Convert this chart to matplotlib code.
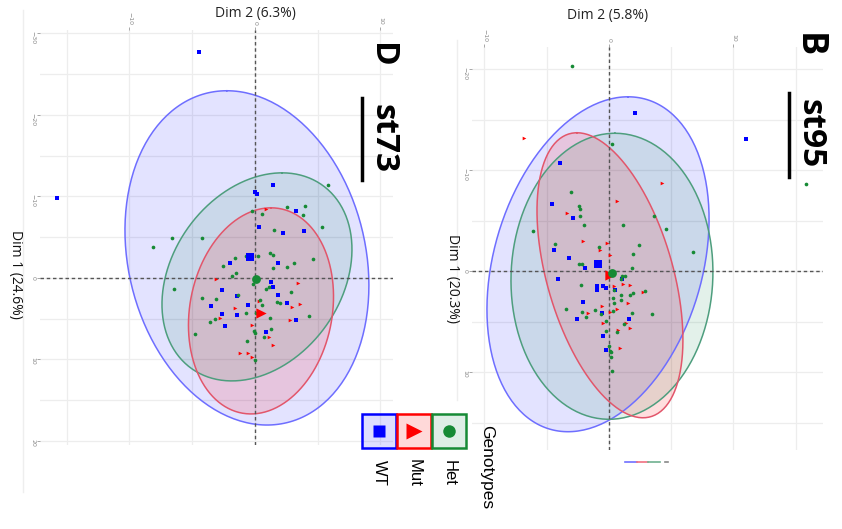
import numpy as np
import matplotlib
matplotlib.use("Agg")
import matplotlib.pyplot as plt
from matplotlib.lines import Line2D
from matplotlib.patches import Rectangle

W, H = 842, 529

# ---- panel D (st73): Dim 2 runs across, Dim 1 runs downwards ----
d_wt_dim2 = [1.46, 0, 0.13, 3.27, 0.32, 2.26, 3.88, 1.86, -1.99, 1.25, 1.41, -2.66, 1.81,
             -1.46, -3.53, -0.53, 2.52, -2.63, -1.46, 3.24, -2.36, 0.88, -4.46, -15.8]
d_wt_dim1 = [-11.41, -10.59, -10.31, -8.26, -6.22, -5.48, -5.69, -1.80, -1.88, 0.45, 1.10, 1.47, 2.13,
             2.21, 3.44, 3.35, 3.11, 4.42, 4.58, 5.15, 5.89, 6.58, -27.7, -9.8]
d_mut_dim2 = [0.88, -3.08, 3.45, 0.35, -1.59, 2.97, 3.59, -2.79, 2.79, -0.27, 1.14, 1.41, -1.20, -0.58, -0.27]
d_mut_dim1 = [-8.43, 0.12, 0.57, 2.78, 3.68, 3.56, 3.23, 4.95, 5.19, 5.81, 7.20, 8.22, 9.16, 9.16, 9.65]
d_het_dim2 = [5.79, 2.58, 4.01, 3.85, -0.27, 0.53, 5.37, 1.54, -6.64, -4.25,
              -8.15, 1.20, 1.41, 0.27, -0.72, -1.62, -2.58, 3.11, 4.65, 2.55,
              1.41, -1.49, -1.81, -0.13, -6.45, 0.85, 1.14, 2.87, -4.22, -3.11,
              -1.38, 0.40, 1.78, 1.99, 0.58, 0.11, -0.72, 1.20, 4.30, -3.19,
              -3.56, -4.75, 1.27, -0.11, 0.03, 0.72, -0.61, 0.0]
d_het_dim1 = [-11.41, -8.75, -8.83, -7.77, -8.26, -7.85, -6.22, -5.81, -4.91, -4.91,
              -3.76, -3.03, -2.78, -2.70, -2.62, -2.41, -1.47, -1.80, -2.33, -1.31,
              -1.19, -0.57, -0.25, 0.74, 1.35, 1.35, 1.15, 1.68, 2.41, 2.62,
              2.09, 2.70, 2.90, 3.03, 3.31, 4.34, 4.34, 4.95, 4.66, 5.07,
              5.40, 6.87, 6.30, 6.46, 6.79, 7.28, 7.69, 10.06]
# group means (dim2, dim1)
d_means = {"WT": (-0.40, -2.58), "Mut": (0.48, 4.29), "Het": (0.08, 0.12)}
# confidence ellipses: centre, half-width (dim2), half-height (dim1), dim2 offset of top point
d_ell = {"WT": ((-0.64, -2.45), 9.72, 20.5, -1.6),
         "Het": ((0.16, -0.12), 7.57, 12.76, 2.0),
         "Mut": ((0.48, 4.05), 5.78, 12.64, 0.8)}

# ---- panel B (st95) ----
b_wt_dim2 = [2.09, -3.91, -4.55, -2.92, -4.39, -3.19, -1.95, 11.0, -4.07, -0.99, -0.99,
             -0.46, -0.24, 0.48, 1.02, -2.06, -0.59, -2.54, 1.61, -0.51, -0.27]
b_wt_dim1 = [-15.71, -10.73, -6.70, -5.31, -2.08, -1.35, -0.36, -13.07, 0.76, 1.45, 1.85,
             1.45, 1.68, 1.85, 0.73, 3.00, 4.09, 4.72, 4.75, 6.40, 7.76]
b_mut_dim2 = [-6.80, 4.23, 0.62, -3.35, -2.12, -0.13, -0.72, 0.08, 0.43, 1.15, 1.69,
              2.70, 1.55, -0.59, 0.67, -1.66, 0.08, -0.46, 1.37, 1.69, 0.75, 0.88]
b_mut_dim1 = [-13.23, -8.75, -6.96, -5.81, -2.97, -2.81, -2.08, -1.65, 1.45, 1.22, 1.32,
              2.05, 3.14, 3.40, 3.70, 4.09, 4.06, 5.12, 5.12, 5.58, 5.84, 7.56]
b_het_dim2 = [0.21, -3.08, -2.38, -2.33, -2.33, -2.03, -6.08, 3.64, 1.15, 4.58,
              -4.31, -0.83, 2.44, 1.95, 6.72, -2.38, -2.20, 1.87, -2.97, 15.8,
              1.02, 1.29, 0.94, 0.13, -2.25, 0.40, 0.94, 1.69, 1.90, 2.89,
              0.29, 0.43, 0.94, -3.45, -2.14, -1.12, -0.64, 0.29, 1.82, 3.43,
              -1.87, -0.24, 1.20, 0.67, -0.24, 0.0, 0.08, 0.13, 0.16, 0.27]
b_het_dim1 = [-12.57, -7.85, -6.44, -6.17, -5.48, -4.62, -3.99, -5.51, -4.62, -4.22,
              -2.67, -2.41, -2.64, -1.75, -1.91, -0.76, -0.76, -0.33, -20.3, -8.6,
              0.46, 0.46, 0.76, 0.23, 1.32, 1.88, 2.31, 2.31, 2.15, 1.98,
              2.67, 3.14, 2.87, 3.76, 4.03, 3.86, 4.26, 3.96, 4.09, 4.19,
              4.52, 4.95, 5.18, 6.01, 5.94, 7.43, 7.92, 8.02, 8.48, 9.87]
b_means = {"WT": (-0.88, -0.69), "Mut": (0.08, 0.40), "Het": (0.24, 0.20)}
b_ell = {"WT": ((-0.88, -0.69), 8.92, 16.58, 2.41),
         "Het": ((0.24, 0.50), 8.11, 14.16, 0.24),
         "Mut": ((0.08, 0.40), 5.86, 14.11, -2.65)}

genotypes = ["WT", "Mut", "Het"]
pt_color = {"WT": "#0000FF", "Mut": "#FF0000", "Het": "#168A35"}
edge_color = {"WT": "#6E6EFF", "Mut": "#E2566B", "Het": "#4E9E7E"}
fill_color = {"WT": "#0000FF", "Mut": "#FF0000", "Het": "#008040"}
fill_alpha = {"WT": 0.11, "Mut": 0.13, "Het": 0.11}
marker = {"WT": "s", "Mut": ">", "Het": "o"}


def fig_xy(x, y):
    return x / W, 1 - y / H


def draw_ellipse(ax, centre, rx, ry, ox, key):
    t = np.linspace(0, 2 * np.pi, 240)
    bx = np.sqrt(rx ** 2 - ox ** 2)
    xs = centre[0] + ox * np.cos(t) + bx * np.sin(t)
    ys = centre[1] - ry * np.cos(t)
    ax.fill(xs, ys, color=fill_color[key], alpha=fill_alpha[key], lw=0, zorder=2)
    ax.plot(xs, ys, color=edge_color[key], lw=1.1, zorder=3)


def draw_panel(rect, xlim, ylim, yticks, points, means, ells):
    ax = fig.add_axes(rect)
    ax.set_xticks(np.arange(-15, xlim[1], 5), minor=True)
    ax.set_yticks(np.arange(-30, ylim[0], 5), minor=True)
    ax.set_xticks([-10, 0, 10])
    ax.set_yticks(yticks)
    ax.xaxis.tick_top()
    ax.tick_params(which="both", length=0)
    ax.tick_params(which="major", length=2, width=0.6, color="#999999",
                   labelsize=4.5, labelcolor="#888888", pad=1.5)
    for lab in ax.get_xticklabels() + ax.get_yticklabels():
        lab.set_rotation(-90)
    ax.grid(which="both", color="#EDEDED", lw=0.9)
    ax.set_axisbelow(True)
    for s in ax.spines.values():
        s.set_visible(False)
    for key in ["WT", "Het", "Mut"]:
        draw_ellipse(ax, *ells[key], key)
    ax.axhline(0, color="#555555", lw=1, ls=(0, (2.5, 2)), zorder=4)
    ax.axvline(0, color="#555555", lw=1, ls=(0, (2.5, 2)), zorder=4)
    for key in genotypes:
        x, y = points[key]
        ax.scatter(x, y, s=7, marker=marker[key], color=pt_color[key], lw=0, zorder=5)
        mx, my = means[key]
        ax.scatter([mx], [my], s=40 if key != "Mut" else 55, marker=marker[key],
                   color=pt_color[key], lw=0, zorder=6)
    # limits last, so tick setting cannot widen them
    ax.set_xlim(*xlim)
    ax.set_ylim(*ylim)
    return ax


fig = plt.figure(figsize=(W / 100, H / 100), dpi=100)

# faint page borders of the original screenshot
fig.add_artist(Line2D([23 / W, 23 / W], [1 - 10 / H, 1 - 492 / H], color="#EEEEEE", lw=1))
fig.add_artist(Line2D([457 / W, 457 / W], [1 - 40 / H, 1 - 400 / H], color="#EEEEEE", lw=1))

draw_panel([40 / W, 1 - 445 / H, 353 / W, 415 / H], (-17.13, 11.0), (20.5, -30.4),
           [-30, -20, -10, 0, 10, 20],
           {"WT": (d_wt_dim2, d_wt_dim1), "Mut": (d_mut_dim2, d_mut_dim1),
            "Het": (d_het_dim2, d_het_dim1)}, d_means, d_ell)
draw_panel([472 / W, 1 - 450 / H, 351 / W, 403 / H], (-11.0, 17.19), (17.7, -22.2),
           [-20, -10, 0, 10],
           {"WT": (b_wt_dim2, b_wt_dim1), "Mut": (b_mut_dim2, b_mut_dim1),
            "Het": (b_het_dim2, b_het_dim1)}, b_means, b_ell)

title_font = "Open Sans"
fig.text(*fig_xy(255, 14), "Dim 2 (6.3%)", ha="center", va="center", fontsize=10,
         family=title_font, color="#222222")
fig.text(*fig_xy(15, 274), "Dim 1 (24.6%)", ha="center", va="center", fontsize=10,
         family=title_font, rotation=-90, color="#111111")
fig.text(*fig_xy(608, 16), "Dim 2 (5.8%)", ha="center", va="center", fontsize=10,
         family=title_font, color="#222222")
fig.text(*fig_xy(453, 279), "Dim 1 (20.3%)", ha="center", va="center", fontsize=10,
         family=title_font, rotation=-90, color="#111111")

# panel letters and strain names
fig.text(*fig_xy(381, 55), "D", ha="center", va="center", fontsize=24, weight="bold",
         family=title_font, rotation=-90)
fig.text(*fig_xy(383, 138), "st73", ha="center", va="center", fontsize=24, weight="bold",
         family=title_font, rotation=-90)
fig.add_artist(Line2D([362 / W, 362 / W], [1 - 98 / H, 1 - 180 / H], color="black", lw=2.5))
fig.text(*fig_xy(808, 45), "B", ha="center", va="center", fontsize=26, weight="bold",
         family=title_font, rotation=-90)
fig.text(*fig_xy(810, 134), "st95", ha="center", va="center", fontsize=24, weight="bold",
         family=title_font, rotation=-90)
fig.add_artist(Line2D([789 / W, 789 / W], [1 - 93 / H, 1 - 177 / H], color="black", lw=2.5))

# genotype legend
box_x = {"WT": 362, "Mut": 397, "Het": 432}
leg_ms = {"WT": 9, "Mut": 12, "Het": 9}
for key in genotypes:
    x0 = box_x[key]
    fig.add_artist(Rectangle(fig_xy(x0, 448), 34 / W, 34 / H, facecolor=fill_color[key],
                             alpha=fill_alpha[key] + 0.02, lw=0, transform=fig.transFigure))
    fig.add_artist(Rectangle(fig_xy(x0, 448), 34 / W, 34 / H, facecolor="none",
                             edgecolor=pt_color[key], lw=1.8, transform=fig.transFigure))
    cx, cy = fig_xy(x0 + 17, 431)
    fig.add_artist(Line2D([cx], [cy], marker=marker[key], ms=leg_ms[key], color=pt_color[key],
                          mec="none", transform=fig.transFigure))
    fig.text(*fig_xy(x0 + 17, 473), key, ha="center", va="center", fontsize=12,
             family="Liberation Sans", rotation=-90)
fig.text(*fig_xy(487, 467), "Genotypes", ha="center", va="center", fontsize=12.5,
         family="Liberation Sans", rotation=-90)

# stray clipped legend key under panel B
for (xa, xb), c in zip([(625, 637), (637, 648), (648, 660), (665, 668)],
                       ["#7070FF", "#F07080", "#70B090", "#888888"]):
    fig.add_artist(Line2D([xa / W, xb / W], [1 - 462 / H] * 2, color=c, lw=1.2))

fig.savefig("out.png", dpi=100)
